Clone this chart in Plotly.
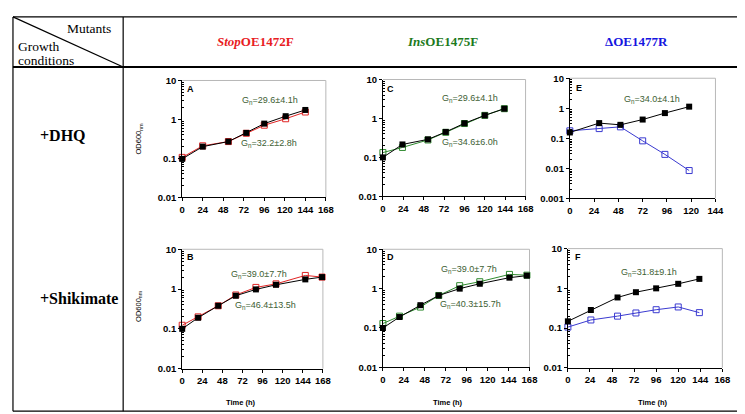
import plotly.graph_objects as go

W, H = 745, 414
def px(x): return x / W
def py(y): return 1 - y / H

# ---------------- data ----------------
tA = [0, 24, 54, 75, 96, 121, 144]
A_black = [0.097, 0.20, 0.27, 0.45, 0.78, 1.21, 1.75]
A_red = [0.106, 0.21, 0.27, 0.44, 0.71, 1.04, 1.55]

tC = [0, 23, 53, 74, 96, 120, 143]
C_black = [0.10, 0.215, 0.29, 0.45, 0.75, 1.2, 1.78]
C_green = [0.133, 0.18, 0.28, 0.44, 0.74, 1.2, 1.78]

tE = [0, 29, 50, 72, 94, 118]
E_black = [0.156, 0.32, 0.28, 0.42, 0.69, 1.13]
E_blue = [0.177, 0.21, 0.24, 0.082, 0.029, 0.0084]

tB = [0, 19, 43, 64, 88, 112, 147, 167]
B_black = [0.10, 0.19, 0.38, 0.68, 0.98, 1.28, 1.75, 2.0]
B_red = [0.123, 0.20, 0.38, 0.71, 1.1, 1.35, 2.2, 2.0]

tD = [0, 19, 43, 64, 88, 111, 145, 165]
D_black = [0.10, 0.19, 0.38, 0.67, 1.0, 1.33, 1.9, 2.14]
D_green = [0.13, 0.20, 0.34, 0.67, 1.19, 1.5, 2.3, 2.2]

tF = [0, 25, 54, 74, 96, 120, 143]
F_black = [0.148, 0.285, 0.59, 0.80, 1.0, 1.3, 1.73]
F_blue = [0.106, 0.16, 0.20, 0.24, 0.29, 0.34, 0.245]

x_ticks_168 = [0, 24, 48, 72, 96, 120, 144, 168]
x_ticks_144 = [0, 24, 48, 72, 96, 120, 144]
y_ticks3 = [0.01, 0.1, 1, 10]
y_text3 = ["0.01", "0.1", "1", "10"]
y_ticks4 = [0.001, 0.01, 0.1, 1, 10]
y_text4 = ["0.001", "0.01", "0.1", "1", "10"]

gn_A = ["G<sub>n</sub>=29.6±4.1h", "G<sub>n</sub>=32.2±2.8h"]
gn_C = ["G<sub>n</sub>=29.6±4.1h", "G<sub>n</sub>=34.6±6.0h"]
gn_E = ["G<sub>n</sub>=34.0±4.1h"]
gn_B = ["G<sub>n</sub>=39.0±7.7h", "G<sub>n</sub>=46.4±13.5h"]
gn_D = ["G<sub>n</sub>=39.0±7.7h", "G<sub>n</sub>=40.3±15.7h"]
gn_F = ["G<sub>n</sub>=31.8±9.1h"]

RED = "#e02424"
GREEN = "#2f8a2f"
BLUE = "#3a3ad0"
GNCOL = "#3d5e33"

panels = [
    dict(letter="A", t=tA, black=A_black, other=A_red, col=RED,
         dom=(174, 320, 68.3, 188.3), xr=168, ymin=-2, gn=gn_A,
         gnpos=[(263, 89), (262, 133)], letpos=(182, 77), ytitle=True, xtitle=False),
    dict(letter="C", t=tC, black=C_black, other=C_green, col=GREEN,
         dom=(378, 523, 67.3, 187.3), xr=168, ymin=-2, gn=gn_C,
         gnpos=[(467, 87), (467, 132)], letpos=(386, 77), ytitle=False, xtitle=False),
    dict(letter="E", t=tE, black=E_black, other=E_blue, col=BLUE,
         dom=(568, 716, 66, 189.3), xr=144, ymin=-3, gn=gn_E,
         gnpos=[(652, 88)], letpos=(577, 76), ytitle=False, xtitle=False),
    dict(letter="B", t=tB, black=B_black, other=B_red, col=RED,
         dom=(174, 317, 241.7, 364.3), xr=168, ymin=-2, gn=gn_B,
         gnpos=[(252, 268), (259, 299)], letpos=(182, 250), ytitle=True, xtitle=True, tpos=234),
    dict(letter="D", t=tD, black=D_black, other=D_green, col=GREEN,
         dom=(378, 527, 241.7, 363), xr=168, ymin=-2, gn=gn_D,
         gnpos=[(465, 262), (467, 298)], letpos=(386, 250), ytitle=False, xtitle=True, tpos=444),
    dict(letter="F", t=tF, black=F_black, other=F_blue, col=BLUE,
         dom=(566, 723, 241, 363.5), xr=168, ymin=-2, gn=gn_F,
         gnpos=[(648, 266)], letpos=(576, 250), ytitle=False, xtitle=True, tpos=653),
]

fig = go.Figure()
shapes = []
annotations = []
tickfont = dict(family="Liberation Sans", size=9.5, color="black", weight="bold")

for i, p in enumerate(panels, start=1):
    xa = "x" if i == 1 else f"x{i}"
    ya = "y" if i == 1 else f"y{i}"
    fig.add_trace(go.Scatter(x=p["t"], y=p["other"], mode="lines+markers", xaxis=xa, yaxis=ya,
                             line=dict(color=p["col"], width=1),
                             marker=dict(symbol="square-open", size=6, color=p["col"], line=dict(width=1, color=p["col"])),
                             cliponaxis=False, showlegend=False))
    fig.add_trace(go.Scatter(x=p["t"], y=p["black"], mode="lines+markers", xaxis=xa, yaxis=ya,
                             line=dict(color="black", width=1),
                             marker=dict(symbol="square", size=6, color="black"),
                             cliponaxis=False, showlegend=False))
    x0, x1, y0, y1 = p["dom"]
    xticks = x_ticks_168 if p["xr"] == 168 else x_ticks_144
    if p["ymin"] == -3:
        yt, ytt = y_ticks4, y_text4
    else:
        yt, ytt = y_ticks3, y_text3
    minor_vals = []
    for e in range(p["ymin"], 1):
        for k in range(2, 10):
            minor_vals.append(k * 10 ** e)
    xkey = "xaxis" if i == 1 else f"xaxis{i}"
    ykey = "yaxis" if i == 1 else f"yaxis{i}"
    fig.update_layout(**{
        xkey: dict(domain=[px(x0), px(x1)], anchor=ya, range=[0, p["xr"]],
                   tickmode="array", tickvals=xticks, ticks="outside", ticklen=3,
                   tickcolor="black", showline=True, linecolor="black", linewidth=1,
                   showgrid=False, zeroline=False, tickfont=tickfont),
        ykey: dict(domain=[py(y1), py(y0)], anchor=xa, type="log", range=[p["ymin"], 1],
                   tickmode="array", tickvals=yt, ticktext=ytt, ticks="outside", ticklen=3,
                   tickcolor="black", showline=True, linecolor="black", linewidth=1,
                   showgrid=False, zeroline=False, tickfont=tickfont,
                   minor=dict(tickmode="array", tickvals=minor_vals, ticks="inside",
                              ticklen=2, tickcolor="black", showgrid=False)),
    })
    # light gray plot-area frame (top & right)
    shapes.append(dict(type="line", xref="paper", yref="paper", x0=px(x0), x1=px(x1), y0=py(y0), y1=py(y0),
                       line=dict(color="#b8b8b8", width=1), layer="below"))
    shapes.append(dict(type="line", xref="paper", yref="paper", x0=px(x1), x1=px(x1), y0=py(y0), y1=py(y1),
                       line=dict(color="#b8b8b8", width=1), layer="below"))
    # panel letter
    annotations.append(dict(x=px(p["letpos"][0]), y=py(p["letpos"][1]), xref="paper", yref="paper",
                            text=p["letter"], showarrow=False, xanchor="center", yanchor="middle",
                            font=dict(family="Liberation Sans", size=9, color="black", weight="bold")))
    for txt_, (gx, gy) in zip(p["gn"], p["gnpos"]):
        annotations.append(dict(x=px(gx), y=py(gy), xref="paper", yref="paper", text=txt_,
                                showarrow=False, xanchor="center", yanchor="middle",
                                font=dict(family="Liberation Sans", size=9, color=GNCOL)))
    if p["ytitle"]:
        yc = 128 if p["letter"] == "A" else 300
        annotations.append(dict(x=px(130), y=py(yc), xref="paper", yref="paper",
                                text="OD600<sub>nm</sub>", textangle=-90, showarrow=False,
                                xanchor="center", yanchor="middle",
                                font=dict(family="Liberation Sans", size=7.5, color="black")))
    if p["xtitle"]:
        annotations.append(dict(x=px(p["tpos"]), y=py(399), xref="paper", yref="paper",
                                text="Time (h)", showarrow=False, xanchor="center", yanchor="middle",
                                font=dict(family="Liberation Sans", size=7.5, color="black", weight="bold")))

# ---------------- table lines ----------------
def line(xa, ya, xb, yb, w=1.2):
    shapes.append(dict(type="line", xref="paper", yref="paper", x0=px(xa), y0=py(ya), x1=px(xb), y1=py(yb),
                       line=dict(color="black", width=w)))

line(2, 3, 742, 3)
line(2, 408, 742, 408)
line(2, 3, 2, 408)
line(742, 3, 742, 408)
line(114, 3, 114, 408)
line(2, 54.5, 742, 54.5, 2)
line(2, 3, 114, 54.5)

serif = "Liberation Serif"
def txt(x, y, s, size, color="black", anchor="center", bold=False):
    annotations.append(dict(x=px(x), y=py(y), xref="paper", yref="paper", text=s, showarrow=False,
                            xanchor=anchor, yanchor="middle",
                            font=dict(family=serif, size=size, color=color, weight="bold" if bold else "normal")))

txt(104, 15, "Mutants", 13.5, anchor="right")
txt(5, 33, "Growth", 13.5, anchor="left")
txt(5, 48, "conditions", 13.5, anchor="left")
txt(249, 28, "<i>Stop</i>OE1472F", 13, color="#e8201f", bold=True)
txt(439, 28, "<i>Ins</i>OE1475F", 13, color="#1c7a1c", bold=True)
txt(636, 28, "ΔOE1477R", 13, color="#1515e0", bold=True)
txt(27, 125, "+DHQ", 16, anchor="left", bold=True)
txt(27, 292, "+Shikimate", 16, anchor="left", bold=True)

fig.update_layout(width=W, height=H, margin=dict(l=0, r=0, t=0, b=0),
                  paper_bgcolor="white", plot_bgcolor="white",
                  shapes=shapes, annotations=annotations, showlegend=False)

fig.write_html("out.html")
